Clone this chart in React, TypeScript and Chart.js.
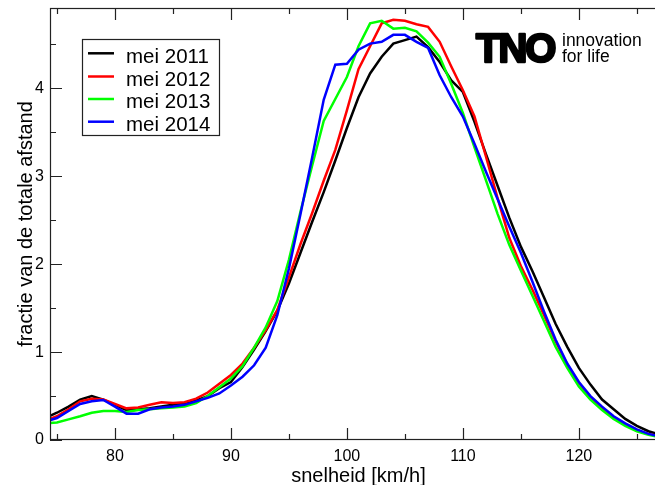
import React, { useEffect, useRef } from "react";
import { Chart, registerables } from "chart.js";

Chart.register(...registerables);

const speeds = [74, 75, 76, 77, 78, 79, 80, 81, 82, 83, 84, 85, 86, 87, 88, 89, 90, 91, 92, 93, 94, 95, 96, 97, 98, 99, 100, 101, 102, 103, 104, 105, 106, 107, 108, 109, 110, 111, 112, 113, 114, 115, 116, 117, 118, 119, 120, 121, 122, 123, 124, 125, 126, 127];

const mei2011 = [0.25, 0.31, 0.38, 0.46, 0.50, 0.46, 0.40, 0.34, 0.35, 0.36, 0.38, 0.40, 0.42, 0.45, 0.50, 0.59, 0.66, 0.83, 1.03, 1.24, 1.47, 1.78, 2.13, 2.48, 2.82, 3.18, 3.55, 3.90, 4.17, 4.36, 4.51, 4.55, 4.59, 4.47, 4.30, 4.09, 3.96, 3.62, 3.25, 2.89, 2.53, 2.20, 1.92, 1.62, 1.32, 1.06, 0.82, 0.63, 0.46, 0.35, 0.24, 0.16, 0.10, 0.06];

const mei2012 = [0.22, 0.27, 0.35, 0.44, 0.47, 0.46, 0.41, 0.36, 0.37, 0.40, 0.43, 0.42, 0.43, 0.47, 0.54, 0.64, 0.74, 0.87, 1.05, 1.25, 1.48, 1.85, 2.23, 2.58, 2.95, 3.30, 3.75, 4.22, 4.48, 4.74, 4.78, 4.77, 4.73, 4.70, 4.53, 4.25, 3.98, 3.68, 3.22, 2.75, 2.30, 1.98, 1.71, 1.42, 1.12, 0.86, 0.65, 0.49, 0.37, 0.26, 0.18, 0.11, 0.07, 0.04];

const mei2013 = [0.19, 0.20, 0.235, 0.27, 0.31, 0.33, 0.33, 0.32, 0.34, 0.35, 0.36, 0.37, 0.38, 0.42, 0.50, 0.60, 0.70, 0.84, 1.05, 1.28, 1.58, 2.05, 2.60, 3.12, 3.63, 3.88, 4.13, 4.48, 4.74, 4.77, 4.68, 4.69, 4.65, 4.52, 4.36, 4.05, 3.72, 3.33, 2.95, 2.57, 2.22, 1.93, 1.64, 1.35, 1.06, 0.82, 0.61, 0.46, 0.34, 0.24, 0.16, 0.10, 0.06, 0.03];

const mei2014 = [0.21, 0.25, 0.33, 0.41, 0.44, 0.455, 0.38, 0.30, 0.30, 0.35, 0.37, 0.38, 0.40, 0.44, 0.48, 0.53, 0.62, 0.72, 0.85, 1.05, 1.42, 1.95, 2.57, 3.21, 3.87, 4.27, 4.28, 4.44, 4.51, 4.53, 4.61, 4.61, 4.53, 4.46, 4.15, 3.90, 3.68, 3.37, 3.05, 2.74, 2.43, 2.13, 1.80, 1.46, 1.14, 0.87, 0.66, 0.50, 0.38, 0.27, 0.19, 0.12, 0.07, 0.04];

const seriesLabels = ["mei 2011", "mei 2012", "mei 2013", "mei 2014"];
const seriesColors = ["#000000", "#ff0000", "#00ff00", "#0000ff"];
const seriesValues = [mei2011, mei2012, mei2013, mei2014];

const xMajorTicks = [80, 90, 100, 110, 120];
const xMinorTicks = [75, 85, 95, 105, 115, 125];
const yMajorTicks = [0, 1, 2, 3, 4];
const yMinorTicks = [0.5, 1.5, 2.5, 3.5, 4.5];

const xTitle = "snelheid [km/h]";
const yTitle = "fractie van de totale afstand";
const logoMain = "TNO";
const logoLine1 = "innovation";
const logoLine2 = "for life";

const FONT = '"Liberation Sans", Arial, Helvetica, sans-serif';

const decorPlugin = {
  id: "decor",
  afterDraw(chart: any) {
    const { ctx, chartArea, scales } = chart;
    const { left, right, top, bottom } = chartArea;
    const xs = scales.x;
    const ys = scales.y;
    ctx.save();
    // frame
    ctx.strokeStyle = "#222";
    ctx.lineWidth = 1.2;
    ctx.strokeRect(left + 0.5, top + 0.5, right - left - 1, bottom - top - 1);
    ctx.beginPath();
    const tick = (vals: number[], len: number) => {
      vals.forEach((v) => {
        const px = Math.round(xs.getPixelForValue(v)) + 0.5;
        ctx.moveTo(px, bottom);
        ctx.lineTo(px, bottom - len);
        ctx.moveTo(px, top);
        ctx.lineTo(px, top + len);
      });
    };
    const tickY = (vals: number[], len: number) => {
      vals.forEach((v) => {
        const py = Math.round(ys.getPixelForValue(v)) + 0.5;
        ctx.moveTo(left, py);
        ctx.lineTo(left + len, py);
        ctx.moveTo(right, py);
        ctx.lineTo(right - len, py);
      });
    };
    tick(xMajorTicks, 12);
    tick(xMinorTicks, 6);
    tickY(yMajorTicks, 12);
    tickY(yMinorTicks, 6);
    ctx.stroke();

    // axis titles
    ctx.fillStyle = "#000";
    ctx.font = `20px ${FONT}`;
    ctx.textAlign = "center";
    ctx.textBaseline = "alphabetic";
    ctx.fillText(xTitle, (left + right) / 2, 482);
    ctx.save();
    ctx.translate(32, (top + bottom) / 2);
    ctx.rotate(-Math.PI / 2);
    ctx.fillText(yTitle, 0, 0);
    ctx.restore();

    // legend
    const bx = 82, by = 39, bw = 137, bh = 96;
    ctx.fillStyle = "#fff";
    ctx.fillRect(bx, by, bw, bh);
    ctx.strokeStyle = "#222";
    ctx.lineWidth = 1.2;
    ctx.strokeRect(bx + 0.5, by + 0.5, bw, bh);
    const rows = [53.3, 76.5, 99, 121.7];
    chart.data.datasets.forEach((ds: any, i: number) => {
      const ry = rows[i];
      ctx.strokeStyle = ds.borderColor;
      ctx.lineWidth = 2.5;
      ctx.beginPath();
      ctx.moveTo(88, ry);
      ctx.lineTo(114, ry);
      ctx.stroke();
      ctx.fillStyle = "#000";
      ctx.font = `20.5px ${FONT}`;
      ctx.textAlign = "left";
      ctx.textBaseline = "alphabetic";
      ctx.fillText(ds.label, 126, ry + 9.4);
    });

    // logo
    ctx.fillStyle = "#000";
    ctx.strokeStyle = "#000";
    ctx.font = `bold 40px ${FONT}`;
    ctx.textAlign = "left";
    ctx.textBaseline = "alphabetic";
    (ctx as any).letterSpacing = "-2px";
    ctx.lineWidth = 2.5;
    ctx.lineJoin = "round";
    ctx.strokeText(logoMain, 476, 62);
    ctx.fillText(logoMain, 476, 62);
    (ctx as any).letterSpacing = "0px";
    ctx.font = `17.5px ${FONT}`;
    ctx.fillText(logoLine1, 562, 45.5);
    ctx.fillText(logoLine2, 562, 61.5);
    ctx.restore();
  },
};

export default function App() {
  const canvasRef = useRef<HTMLCanvasElement | null>(null);

  useEffect(() => {
    const canvas = canvasRef.current;
    if (!canvas) return;
    const datasets = seriesValues.map((vals, i) => ({
      label: seriesLabels[i],
      data: speeds.map((s, j) => ({ x: s, y: vals[j] })),
      borderColor: seriesColors[i],
      backgroundColor: seriesColors[i],
      borderWidth: 2.5,
      pointRadius: 0,
      tension: 0,
      fill: false,
      order: seriesValues.length - i,
    }));
    const chart = new Chart(canvas, {
      type: "line",
      data: { datasets },
      options: {
        animation: false,
        responsive: false,
        devicePixelRatio: 1,
        layout: { padding: { left: 0, top: 8, right: 3, bottom: 0 } },
        plugins: {
          legend: { display: false },
          tooltip: { enabled: false },
          title: { display: false },
        },
        scales: {
          x: {
            type: "linear",
            min: 74.4,
            max: 127.6,
            grid: { display: false, drawTicks: false },
            border: { display: false },
            ticks: {
              color: "#000",
              font: { size: 16, family: FONT },
              padding: 7,
              maxRotation: 0,
              autoSkip: false,
              callback: (v: any) => String(v),
            },
            afterBuildTicks: (s: any) => {
              s.ticks = xMajorTicks.map((v) => ({ value: v }));
            },
            afterFit: (s: any) => {
              s.height = 45;
              s.paddingLeft = 0;
              s.paddingRight = 0;
            },
          },
          y: {
            type: "linear",
            min: 0,
            max: 4.915,
            grid: { display: false, drawTicks: false },
            border: { display: false },
            ticks: {
              color: "#000",
              font: { size: 16, family: FONT },
              padding: 6,
              autoSkip: false,
              callback: (v: any) => String(v),
            },
            afterBuildTicks: (s: any) => {
              s.ticks = yMajorTicks.map((v) => ({ value: v }));
            },
            afterFit: (s: any) => {
              s.width = 50;
              s.paddingTop = 0;
              s.paddingBottom = 0;
            },
          },
        },
      },
      plugins: [decorPlugin],
    });
    return () => chart.destroy();
  }, []);

  return (
    <div
      style={{
        position: "fixed",
        left: 0,
        top: 0,
        width: 655,
        height: 485,
        overflow: "hidden",
        background: "#fff",
      }}
    >
      <canvas ref={canvasRef} width={670} height={485} style={{ width: 670, height: 485, display: "block" }} />
    </div>
  );
}
